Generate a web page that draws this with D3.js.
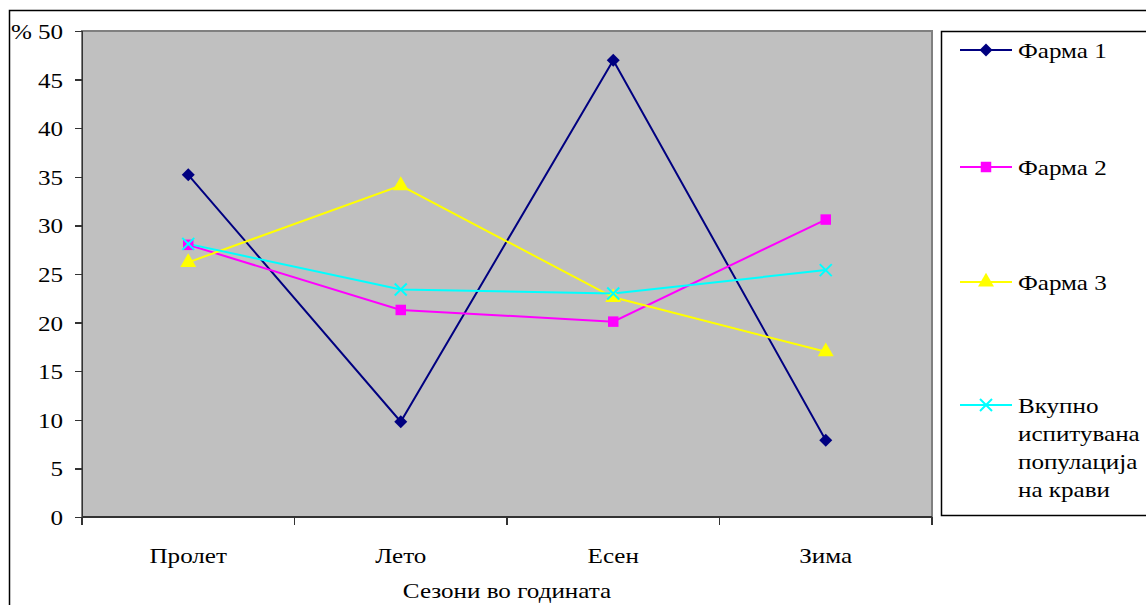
<!DOCTYPE html>
<html>
<head>
<meta charset="utf-8">
<title></title>
<script src="https://d3js.org/d3.v7.min.js"></script>
<style>
body { margin: 0; background: #fff; font-family: "Liberation Serif", "DejaVu Serif", serif; }
.axis text { font-family: "Liberation Serif", serif; font-size: 22px; fill: #000; }
.axis line, .axis path { stroke: #333; stroke-width: 1.5; shape-rendering: crispEdges; }
.lbl { font-family: "Liberation Serif", serif; font-size: 22px; fill: #000; }
svg text { transform-box: fill-box; }
</style>
</head>
<body>
<div class="content"></div>
<script type="text/javascript">
var seasons = ["Пролет", "Лето", "Есен", "Зима"];
var yTicks = [0, 5, 10, 15, 20, 25, 30, 35, 40, 45, 50];
var farm1 = [35.2, 9.8, 47.0, 7.9];
var farm2 = [28.0, 21.3, 20.1, 30.6];
var farm3 = [26.2, 34.1, 22.6, 17.0];
var total = [28.1, 23.4, 23.0, 25.4];
var seriesNames = ["Фарма 1", "Фарма 2", "Фарма 3", "Вкупно испитувана популација на крави"];
var colors = ["#000080", "#FF00FF", "#FFFF00", "#00FFFF"];
var shapes = ["diamond", "square", "triangle", "x"];

var series = [farm1, farm2, farm3, total].map(function (v, i) {
	return { name: seriesNames[i], values: v, color: colors[i], shape: shapes[i] };
});

var W = 1146, H = 605;
var margin = { top: 31, left: 82, right: 214, bottom: 88 };
var width = W - margin.left - margin.right,
	height = H - margin.top - margin.bottom;

var svg = d3.select(".content").append("svg").attr("width", W).attr("height", H);

// outer chart border
svg.append("rect").attr("x", 9.5).attr("y", 10.5).attr("width", W + 20).attr("height", H + 20)
	.style("fill", "none").style("stroke", "#000").style("stroke-width", 1.5);

var x = d3.scaleBand().domain(seasons).range([0, width]).padding(0),
	y = d3.scaleLinear().domain([0, 50]).range([height, 0]);

var g = svg.append("g").attr("transform", "translate(" + margin.left + "," + margin.top + ")");

g.append("rect").attr("width", width).attr("height", height)
	.style("fill", "#C0C0C0").style("stroke", "#808080").style("stroke-width", 1.5)
	.style("shape-rendering", "crispedges");

// x axis with ticks between categories
var xAxis = g.append("g").attr("class", "axis").attr("transform", "translate(0," + height + ")");
xAxis.append("line").attr("x1", 0).attr("x2", width).attr("y1", 0).attr("y2", 0);
xAxis.selectAll(".xt").data(d3.range(seasons.length + 1)).enter().append("line")
	.attr("x1", function (i) { return i * x.bandwidth(); })
	.attr("x2", function (i) { return i * x.bandwidth(); })
	.attr("y1", 0).attr("y2", 8);
xAxis.selectAll(".xl").data(seasons).enter().append("text")
	.attr("x", function (d) { return x(d) + x.bandwidth() / 2; })
	.attr("y", 46).attr("text-anchor", "middle").text(function (d) { return d; });

var yAxis = g.append("g").attr("class", "axis")
	.call(d3.axisLeft(y).tickValues(yTicks).tickSize(7).tickPadding(12).tickFormat(d3.format("d")));
yAxis.selectAll("text").attr("dy", "0.34em");

svg.append("text").attr("class", "lbl").attr("x", 11).attr("y", margin.top + 8).text("%");

svg.append("text").attr("class", "lbl").attr("text-anchor", "middle")
	.attr("x", margin.left + width / 2).attr("y", 598).text("Сезони во годината");

var line = d3.line()
	.x(function (d, i) { return x(seasons[i]) + x.bandwidth() / 2; })
	.y(function (d) { return y(d); });

function drawMarker(sel, shape, color) {
	if (shape === "x") {
		sel.append("path").attr("d", "M-6,-6L6,6M-6,6L6,-6")
			.style("stroke", color).style("stroke-width", 2).style("fill", "none");
	} else if (shape === "diamond") {
		sel.append("path").attr("d", "M0,-6.5L6.5,0L0,6.5L-6.5,0Z").style("fill", color);
	} else {
		var sym = shape === "square" ? d3.symbolSquare : d3.symbolTriangle;
		sel.append("path").attr("d", d3.symbol().type(sym).size(110)())
			.style("fill", color).style("stroke", "none");
	}
}

series.forEach(function (s) {
	g.append("path").datum(s.values).attr("d", line)
		.style("fill", "none").style("stroke", s.color).style("stroke-width", 2);
});
series.forEach(function (s) {
	s.values.forEach(function (v, i) {
		var m = g.append("g").attr("transform", "translate(" + (x(seasons[i]) + x.bandwidth() / 2) + "," + y(v) + ")");
		drawMarker(m, s.shape, s.color);
	});
});

// legend
var lg = svg.append("g");
lg.append("rect").attr("x", 941.5).attr("y", 31.5).attr("width", 230).attr("height", 484)
	.style("fill", "#fff").style("stroke", "#000").style("stroke-width", 1.5);
var legY = [50, 167, 282, 405];
var legWrap = [["Фарма 1"], ["Фарма 2"], ["Фарма 3"], ["Вкупно", "испитувана", "популација", "на крави"]];
series.forEach(function (s, i) {
	var row = lg.append("g").attr("transform", "translate(0," + legY[i] + ")");
	row.append("line").attr("x1", 960).attr("x2", 1012).attr("y1", 0).attr("y2", 0)
		.style("stroke", s.color).style("stroke-width", 2);
	var m = row.append("g").attr("transform", "translate(986,0)");
	drawMarker(m, s.shape, s.color);
	legWrap[i].forEach(function (w, k) {
		row.append("text").attr("class", "lbl").attr("x", 1018).attr("y", 8 + k * 28).text(w);
	});
});

// the source font is set wider than Liberation Serif: stretch text horizontally
svg.selectAll("text").each(function () {
	var t = d3.select(this), a = t.attr("text-anchor") || getComputedStyle(this).textAnchor;
	var origin = a === "middle" ? "center" : a === "end" ? "right" : "left";
	t.style("transform-origin", origin + " center").style("transform", "scaleX(1.14)");
});
</script>
</body>
</html>
